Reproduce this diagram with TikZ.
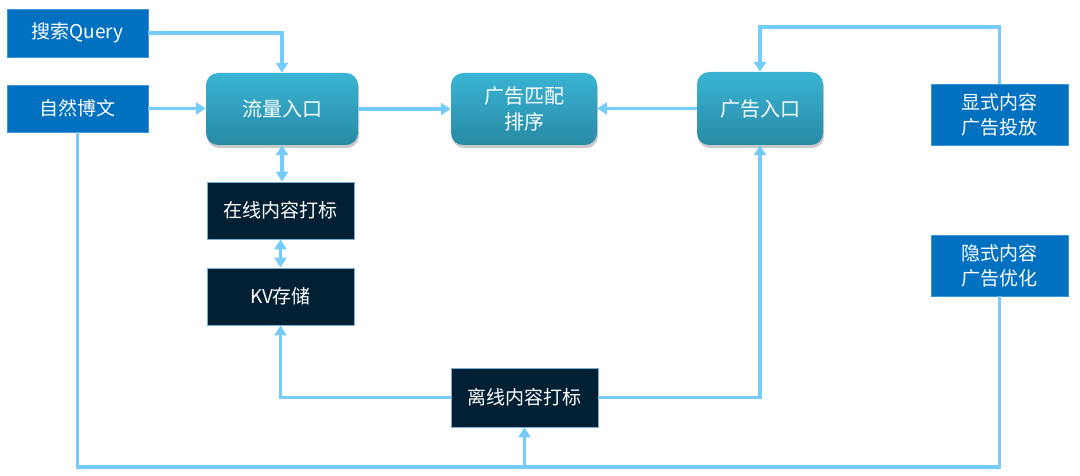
\documentclass[tikz,border=0pt]{standalone}
\usepackage{fontspec}
\setmainfont{Noto Sans CJK SC}
\usetikzlibrary{arrows.meta,shadows,positioning}
\definecolor{lineblue}{RGB}{117,204,250}
\definecolor{boxblue}{RGB}{0,112,192}
\definecolor{boxblueedge}{RGB}{60,150,215}
\definecolor{darkbox}{RGB}{2,32,52}
\definecolor{darkedge}{RGB}{120,175,210}
\definecolor{tealtop}{RGB}{58,180,212}
\definecolor{tealbot}{RGB}{40,138,165}
\tikzset{
  bluebox/.style={draw=boxblueedge,line width=0.8pt,fill=boxblue,text=white,inner sep=0pt,
    minimum width=141pt,align=center,font=\fontsize{19}{25}\selectfont},
  darkbx/.style={draw=darkedge,line width=0.8pt,fill=darkbox,text=white,inner sep=0pt,
    minimum width=147pt,minimum height=57pt,align=center,font=\fontsize{19}{23}\selectfont},
  tealbox/.style={rounded corners=12pt,top color=tealtop,bottom color=tealbot,draw=none,text=white,
    inner sep=0pt,minimum height=72pt,align=center,font=\fontsize{20}{26.5}\selectfont,
    drop shadow={shadow xshift=1pt,shadow yshift=-3pt,opacity=0.35,fill=black!60}},
  conn/.style={draw=lineblue,line width=3.2pt},
  arr/.style={conn,-{Triangle[length=10pt,width=12pt]}},
  darr/.style={conn,{Triangle[length=10pt,width=12pt]}-{Triangle[length=10pt,width=12pt]}},
}
\begin{document}
\begin{tikzpicture}[x=1pt,y=-1pt]
\useasboundingbox (0,0) rectangle (1080,476);
% nodes
\node[bluebox,minimum height=48pt] (query) at (77.5,33) {搜索Query};
\node[bluebox,minimum height=47pt] (zrbw) at (77.5,108.5) {自然博文};
\node[tealbox,minimum width=152pt] (lliu) at (282,109) {流量入口};
\node[tealbox,minimum width=146pt] (pipei) at (524,109) {广告匹配\\排序};
\node[tealbox,minimum width=126pt,minimum height=73pt] (ggrk) at (760,108.5) {广告入口};
\node[bluebox,minimum width=137pt,minimum height=61pt] (xianshi) at (999.5,114.5) {显式内容\\广告投放};
\node[bluebox,minimum width=137pt,minimum height=61pt] (yinshi) at (999.5,265.5) {隐式内容\\广告优化};
\node[darkbx] (zx) at (280.5,210.5) {在线内容打标};
\node[darkbx] (kv) at (280.5,296.5) {KV存储};
\node[darkbx,minimum height=59pt] (lixian) at (524.5,397.5) {离线内容打标};
\coordinate (top) at (0,27);
\coordinate (bl) at (77.5,467);
\coordinate (br) at (999.5,467);
% connectors
\draw[arr] (query.east) -- (query.east -| lliu.north) -- (lliu.north);
\draw[arr] (zrbw.east) -- (zrbw.east -| lliu.west);
\draw[arr] (lliu.east) -- (lliu.east -| pipei.west);
\draw[arr] (ggrk.west) -- (ggrk.west -| pipei.east);
\draw[arr] (xianshi.north) -- (xianshi.north |- top) -- (ggrk.north |- top) -- (ggrk.north);
\draw[darr] (lliu.south) -- (lliu.south |- zx.north);
\draw[darr] (zx.south) -- (kv.north);
\draw[arr] (lixian.west) -| (kv.south);
\draw[arr] (lixian.east) -| (ggrk.south);
\draw[conn] (zrbw.south) -- (bl) -- (br) -- (yinshi.south);
\draw[arr] (lixian.south |- bl) -- (lixian.south);
\end{tikzpicture}
\end{document}
